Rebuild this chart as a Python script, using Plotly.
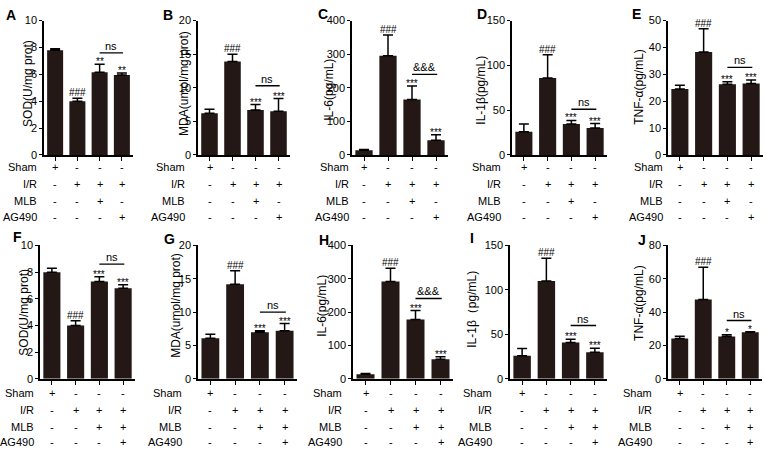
import plotly.graph_objects as go

# ---------------- data ----------------
categories = ["Sham", "I/R", "I/R+MLB", "I/R+AG490"]
row_labels = ["Sham", "I/R", "MLB", "AG490"]

sham_signs = ["+", "-", "-", "-"]
ir_signs = ["-", "+", "+", "+"]
mlb_top = ["-", "-", "+", "-"]
ag_top = ["-", "-", "-", "+"]
mlb_bottom = ["-", "-", "+", "+"]
ag_bottom = ["-", "-", "-", "+"]

letters = ["A", "B", "C", "D", "E", "F", "G", "H", "I", "J"]
y_titles = ["SOD(U/mg prot)", "MDA(umol/mg prot)", "IL-6(pg/mL)", "IL-1β(pg/mL)", "TNF-α(pg/mL)",
            "SOD(U/mg prot)", "MDA(umol/mg prot)", "IL-6(pg/mL)", "IL-1β（pg/mL)", "TNF-α(pg/mL)"]
y_max = [10, 20, 400, 150, 50, 10, 20, 400, 150, 80]
y_dtick = [2, 5, 100, 50, 10, 2, 5, 100, 50, 20]

sod_a = [7.8, 4.0, 6.15, 5.95]
sod_a_err = [0.1, 0.22, 0.6, 0.15]
mda_b = [6.2, 13.9, 6.7, 6.5]
mda_b_err = [0.6, 1.1, 0.8, 1.9]
il6_c = [14, 295, 165, 44]
il6_c_err = [2, 62, 40, 16]
il1b_d = [26, 86, 34.5, 30]
il1b_d_err = [8.5, 26, 4, 5]
tnf_e = [24.5, 38.3, 26.3, 26.6]
tnf_e_err = [1.4, 8.7, 0.9, 1.3]
sod_f = [8.0, 4.0, 7.3, 6.8]
sod_f_err = [0.3, 0.35, 0.35, 0.25]
mda_g = [6.1, 14.2, 7.0, 7.2]
mda_g_err = [0.6, 2.0, 0.2, 1.1]
il6_h = [14, 292, 178, 59]
il6_h_err = [2, 40, 27, 7]
il1b_i = [26, 110, 41, 30]
il1b_i_err = [8, 25.5, 3.5, 4.5]
tnf_j = [24.2, 47.6, 25.4, 27.9]
tnf_j_err = [1.4, 19.3, 1.0, 0.4]

means = [sod_a, mda_b, il6_c, il1b_d, tnf_e, sod_f, mda_g, il6_h, il1b_i, tnf_j]
errs = [sod_a_err, mda_b_err, il6_c_err, il1b_d_err, tnf_e_err,
        sod_f_err, mda_g_err, il6_h_err, il1b_i_err, tnf_j_err]

marks = [["", "###", "**", "**"]] + [["", "###", "***", "***"]] * 8 + [["", "###", "*", "*"]]
bracket_text = ["ns", "ns", "&&&", "ns", "ns", "ns", "ns", "&&&", "ns", "ns"]
bracket_y = [7.6, 10.3, 240, 51, 32.6, 8.6, 10.0, 241, 60, 35]

# ---------------- layout geometry (pixels) ----------------
W, H = 765, 453
def fx(px):
    return px / W
def fy(py):
    return 1 - py / H

x_doms = [(44, 133), (198, 290), (352, 448), (512, 607), (668, 763),
          (40, 135), (198, 297), (353, 453), (510, 607), (668, 762)]
row_y = [(15, 153), (246, 383)]
table_rows_y = [[165, 183, 200, 217], [398, 415, 432, 448]]
label_right = [39, 187, 351, 503, 665, 36, 184, 344, 494, 654]
letter_pos = [(4, 9), (161, 9), (316, 8), (475, 8), (630, 8),
              (11, 237), (162, 239), (317, 240), (468, 238), (636, 240)]
title_pos = [(28, 80), (184, 80), (329, 86), (481, 87), (639, 83),
             (24, 315), (176, 308), (322, 308), (472, 312), (639, 305)]

BAR = "#231815"
FONT = "Arial, Liberation Sans, sans-serif"

fig = go.Figure()
layout = dict(width=W, height=H, margin=dict(l=0, r=0, t=0, b=0),
              paper_bgcolor="white", plot_bgcolor="white", showlegend=False,
              font=dict(family=FONT, color="black", size=11))
annotations = []
shapes = []

for i in range(10):
    row = 0 if i < 5 else 1
    sfx = "" if i == 0 else str(i + 1)
    xa, ya = "x" + sfx, "y" + sfx
    fig.add_trace(go.Bar(
        x=list(range(4)), y=means[i], xaxis=xa, yaxis=ya,
        marker=dict(color=BAR, line=dict(width=0)), width=0.72,
        error_y=dict(type="data", symmetric=False, array=errs[i],
                     arrayminus=[0] * 4, color="black", thickness=1.5, width=5),
    ))
    x0, x1 = x_doms[i]
    yt, yb = row_y[row]
    layout["xaxis" + sfx] = dict(
        domain=[fx(x0), fx(x1)], anchor=ya, range=[-0.5, 3.5],
        showline=True, linecolor="black", linewidth=1.5,
        ticks="outside", ticklen=4, tickwidth=1.2, tickcolor="black",
        tickvals=[0, 1, 2, 3], showticklabels=False, showgrid=False, zeroline=False,
        fixedrange=True)
    layout["yaxis" + sfx] = dict(
        domain=[fy(yb), fy(yt)], anchor=xa, range=[0, y_max[i]],
        tick0=0, dtick=y_dtick[i],
        showline=True, linecolor="black", linewidth=1.5,
        ticks="outside", ticklen=3, tickwidth=1.2, tickcolor="black",
        tickfont=dict(size=11, family=FONT, color="black"),
        showgrid=False, zeroline=False, fixedrange=True)

    # significance marks above bars
    for k in range(4):
        if marks[i][k]:
            star = marks[i][k].startswith("*")
            annotations.append(dict(
                x=k, y=means[i][k] + errs[i][k], xref=xa, yref=ya,
                text=marks[i][k], showarrow=False, yanchor="bottom",
                yshift=-5 if star else -2,
                font=dict(size=10, family=FONT, color="black")))
    # bracket
    shapes.append(dict(type="line", xref=xa, yref=ya, x0=2.0, x1=3.05,
                       y0=bracket_y[i], y1=bracket_y[i],
                       line=dict(color="black", width=1.3)))
    annotations.append(dict(x=2.52, y=bracket_y[i], xref=xa, yref=ya,
                            text=bracket_text[i], showarrow=False, yanchor="bottom",
                            yshift=-1, font=dict(size=11, family=FONT, color="black")))

    # panel letter
    lx, ly = letter_pos[i]
    annotations.append(dict(x=fx(lx), y=fy(ly), xref="paper", yref="paper",
                            text="<b>%s</b>" % letters[i], showarrow=False,
                            xanchor="left", yanchor="middle",
                            font=dict(size=14, family=FONT, color="black")))
    # y title
    tx, ty = title_pos[i]
    annotations.append(dict(x=fx(tx), y=fy(ty), xref="paper", yref="paper",
                            text=y_titles[i], textangle=-90, showarrow=False,
                            xanchor="center", yanchor="middle",
                            font=dict(size=12, family=FONT, color="black")))

    # treatment table
    mlb = mlb_top if row == 0 else mlb_bottom
    ag = ag_top if row == 0 else ag_bottom
    sign_rows = [sham_signs, ir_signs, mlb, ag]
    for r in range(4):
        py = table_rows_y[row][r]
        annotations.append(dict(x=fx(label_right[i]), y=fy(py), xref="paper", yref="paper",
                                text=row_labels[r], showarrow=False,
                                xanchor="right", yanchor="middle",
                                font=dict(size=11, family=FONT, color="black")))
        for k in range(4):
            annotations.append(dict(x=k, y=fy(py), xref=xa, yref="paper",
                                    text=sign_rows[r][k], showarrow=False,
                                    xanchor="center", yanchor="middle",
                                    font=dict(size=11, family=FONT, color="black")))

layout["annotations"] = annotations
layout["shapes"] = shapes
fig.update_layout(**layout)
fig.write_html("out.html", config={"displayModeBar": False},
               post_script="document.body.style.margin='0';document.body.style.overflow='hidden';")
